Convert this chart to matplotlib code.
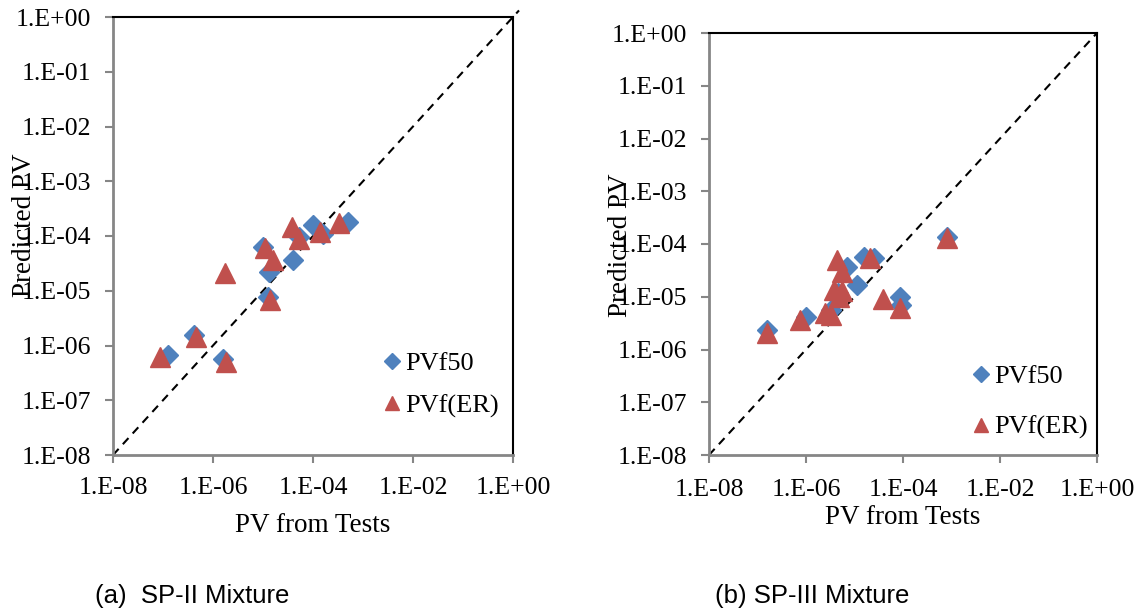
import numpy as np
import matplotlib
matplotlib.use("Agg")
import matplotlib.pyplot as plt
from matplotlib.ticker import FixedLocator, FuncFormatter

plt.rcParams['font.family'] = ['Liberation Serif', 'DejaVu Serif']

# (a) SP-II mixture
a_f50_x = [1.26e-7, 4.2e-7, 1.6e-6, 1.0e-5, 1.3e-5, 1.25e-5, 4.0e-5, 5.2e-5, 1.0e-4, 1.6e-4, 5.0e-4]
a_f50_y = [6.7e-7, 1.55e-6, 5.6e-7, 6.3e-5, 2.2e-5, 7.7e-6, 3.6e-5, 9.6e-5, 1.6e-4, 1.1e-4, 1.8e-4]
a_er_x = [8.7e-8, 4.6e-7, 1.7e-6, 1.8e-6, 1.1e-5, 1.6e-5, 1.4e-5, 3.8e-5, 5.2e-5, 1.4e-4, 3.3e-4]
a_er_y = [6.2e-7, 1.4e-6, 2.1e-5, 5.0e-7, 6.0e-5, 3.6e-5, 6.8e-6, 1.45e-4, 9.0e-5, 1.2e-4, 1.7e-4]

# (b) SP-III mixture
b_f50_x = [1.6e-7, 1.0e-6, 3.3e-6, 4.5e-6, 7.0e-6, 1.1e-5, 1.6e-5, 2.5e-5, 8.5e-5, 9.0e-5, 8.0e-4]
b_f50_y = [2.3e-6, 4.2e-6, 5.6e-6, 1.2e-5, 3.6e-5, 1.7e-5, 5.6e-5, 5.4e-5, 1.0e-5, 7.0e-6, 1.35e-4]
b_er_x = [1.6e-7, 7.6e-7, 2.5e-6, 3.3e-6, 4.4e-6, 5.5e-6, 3.8e-6, 5.5e-6, 4.8e-6, 2.1e-5, 3.9e-5, 8.7e-5, 8.0e-4]
b_er_y = [2.1e-6, 3.6e-6, 4.9e-6, 4.5e-6, 5.0e-5, 3.0e-5, 1.35e-5, 1.3e-5, 1.0e-5, 5.4e-5, 9.0e-6, 6.2e-6, 1.3e-4]

x_ticks = [1e-8, 1e-6, 1e-4, 1e-2, 1e0]
y_ticks = [10.0**e for e in range(-8, 1)]

BLUE = '#4F81BD'
RED = '#C0504D'
GRAY = '#868686'


def fmt(v, pos):
    e = int(round(np.log10(v)))
    return f"1.E{e:+03d}"


def setup(ax, line_ext, xpad, ylab_xy, xlab_xy, leg_anchor, leg_space):
    ax.set_xscale('log')
    ax.set_yscale('log')
    ax.set_xlim(1e-8, 1e0)
    ax.set_ylim(1e-8, 1e0)
    ax.plot([1e-8, line_ext], [1e-8, line_ext], ls=(0, (4, 3)), color='black',
            lw=1.5, clip_on=False, zorder=1)
    ax.xaxis.set_major_locator(FixedLocator(x_ticks))
    ax.yaxis.set_major_locator(FixedLocator(y_ticks))
    ax.xaxis.set_minor_locator(FixedLocator([]))
    ax.yaxis.set_minor_locator(FixedLocator([]))
    ax.xaxis.set_major_formatter(FuncFormatter(fmt))
    ax.yaxis.set_major_formatter(FuncFormatter(fmt))
    ax.tick_params(axis='both', direction='out', color=GRAY, width=1.5,
                   labelsize=18.5, length=6)
    ax.tick_params(axis='x', pad=xpad)
    ax.tick_params(axis='y', pad=10)
    for s in ['left', 'bottom']:
        ax.spines[s].set_color(GRAY)
        ax.spines[s].set_linewidth(2)
    for s in ['top', 'right']:
        ax.spines[s].set_color('black')
        ax.spines[s].set_linewidth(1.5)
    ax.set_xlabel('PV from Tests', fontsize=19.5)
    ax.set_ylabel('Predicted PV', fontsize=19.5)
    ax.yaxis.set_label_coords(*ylab_xy)
    ax.xaxis.set_label_coords(*xlab_xy)
    ax.legend(loc='upper left', bbox_to_anchor=leg_anchor, frameon=False,
              fontsize=19, markerscale=0.75, handletextpad=0.0,
              handlelength=1.0, labelspacing=leg_space, borderaxespad=0)


fig = plt.figure(figsize=(11.41, 6.11), dpi=100)
ax1 = fig.add_axes([113 / 1141, 156 / 611, 400 / 1141, 438 / 611])
ax2 = fig.add_axes([709 / 1141, 156 / 611, 388 / 1141, 422 / 611])

ax1.plot(a_f50_x, a_f50_y, 'D', color=BLUE, ms=10.5, ls='none', label='PVf50', zorder=3)
ax1.plot(a_er_x, a_er_y, '^', color=RED, ms=14, ls='none', label='PVf(ER)', zorder=4)
setup(ax1, 10**0.12, 10, (-0.19, 0.525), (0.5, -0.133), (0.637, 0.26), 0.7)

ax2.plot(b_f50_x, b_f50_y, 'D', color=BLUE, ms=10.5, ls='none', label='PVf50', zorder=3)
ax2.plot(b_er_x, b_er_y, '^', color=RED, ms=14, ls='none', label='PVf(ER)', zorder=4)
setup(ax2, 1e0, 11, (-0.196, 0.497), (0.5, -0.118), (0.64, 0.24), 1.05)

fig.text(95 / 1141, 1 - 596 / 611, '(a)  SP-II Mixture', fontsize=18.5,
         family=['Liberation Sans', 'DejaVu Sans'], ha='left', va='center')
fig.text(715 / 1141, 1 - 596 / 611, '(b) SP-III Mixture', fontsize=18.5,
         family=['Liberation Sans', 'DejaVu Sans'], ha='left', va='center')

fig.savefig('out.png', dpi=100)
